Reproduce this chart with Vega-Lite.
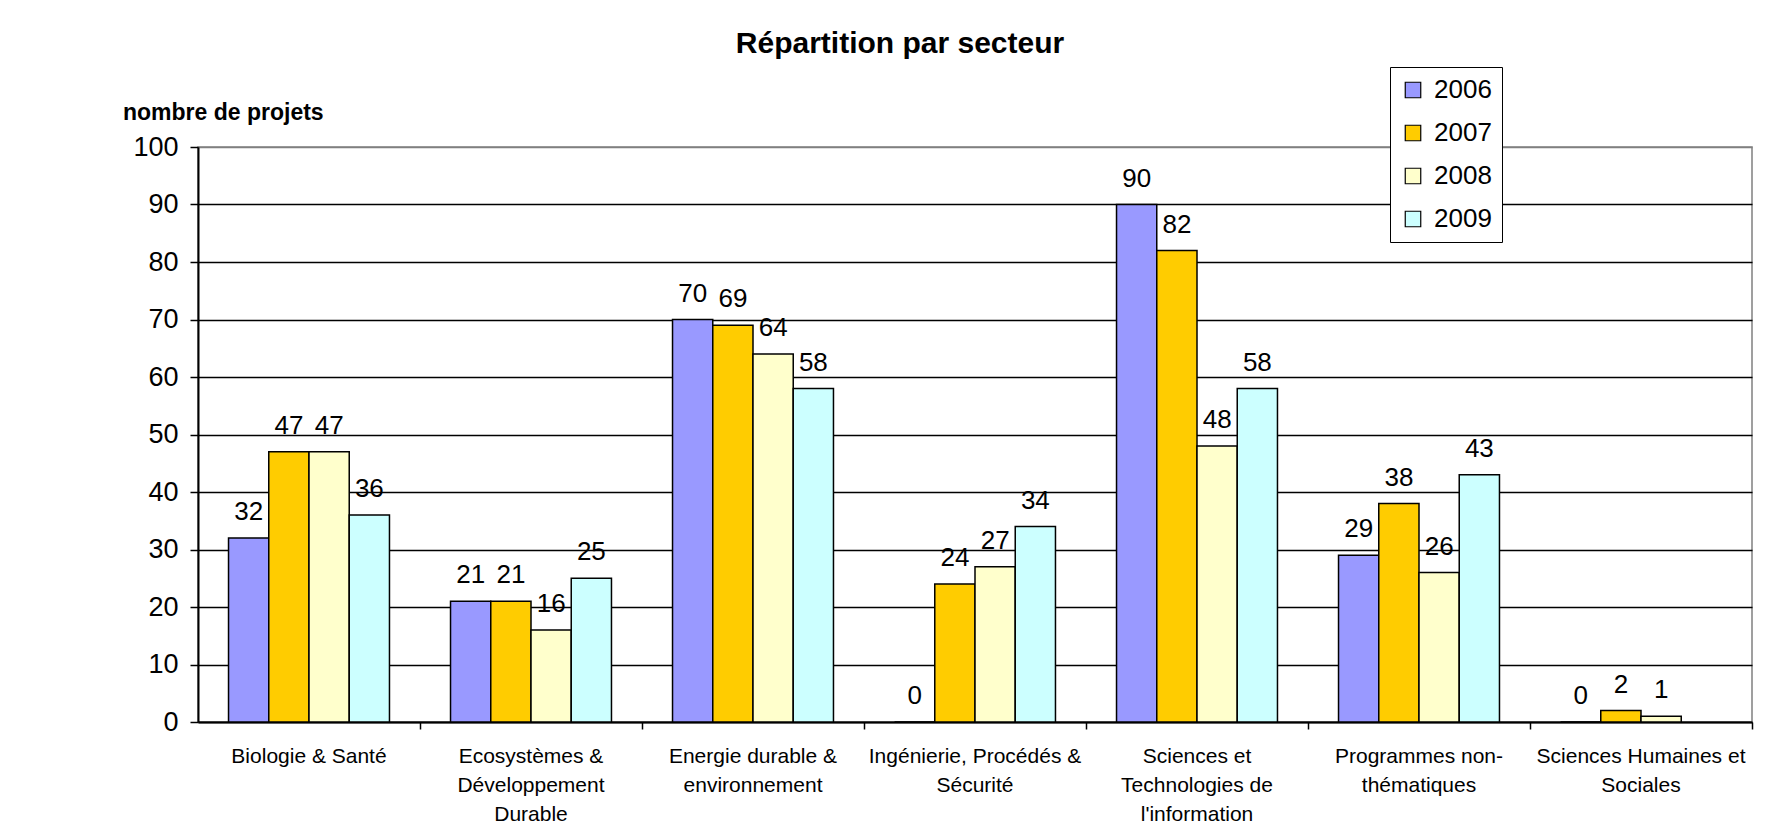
{
  "$schema": "https://vega.github.io/schema/vega-lite/v6.json",
  "width": 1554,
  "height": 575,
  "autosize": "none",
  "padding": {"left": 198, "top": 147, "right": 29, "bottom": 111},
  "background": "white",
  "title": {
    "text": "Répartition par secteur",
    "fontSize": 30,
    "font": "Liberation Sans",
    "fontWeight": "bold",
    "color": "black",
    "anchor": "middle",
    "frame": "group",
    "dx": -75,
    "dy": 30,
    "baseline": "alphabetic",
    "offset": 14
  },
  "data": {
    "values": [
      {"secteur": "Biologie & Santé", "annee": "2006", "projets": 32},
      {"secteur": "Biologie & Santé", "annee": "2007", "projets": 47},
      {"secteur": "Biologie & Santé", "annee": "2008", "projets": 47},
      {"secteur": "Biologie & Santé", "annee": "2009", "projets": 36},
      {"secteur": "Ecosystèmes &\nDéveloppement\nDurable", "annee": "2006", "projets": 21},
      {"secteur": "Ecosystèmes &\nDéveloppement\nDurable", "annee": "2007", "projets": 21},
      {"secteur": "Ecosystèmes &\nDéveloppement\nDurable", "annee": "2008", "projets": 16},
      {"secteur": "Ecosystèmes &\nDéveloppement\nDurable", "annee": "2009", "projets": 25},
      {"secteur": "Energie durable &\nenvironnement", "annee": "2006", "projets": 70},
      {"secteur": "Energie durable &\nenvironnement", "annee": "2007", "projets": 69},
      {"secteur": "Energie durable &\nenvironnement", "annee": "2008", "projets": 64},
      {"secteur": "Energie durable &\nenvironnement", "annee": "2009", "projets": 58},
      {"secteur": "Ingénierie, Procédés &\nSécurité", "annee": "2006", "projets": 0},
      {"secteur": "Ingénierie, Procédés &\nSécurité", "annee": "2007", "projets": 24},
      {"secteur": "Ingénierie, Procédés &\nSécurité", "annee": "2008", "projets": 27},
      {"secteur": "Ingénierie, Procédés &\nSécurité", "annee": "2009", "projets": 34},
      {"secteur": "Sciences et\nTechnologies de\nl'information", "annee": "2006", "projets": 90},
      {"secteur": "Sciences et\nTechnologies de\nl'information", "annee": "2007", "projets": 82},
      {"secteur": "Sciences et\nTechnologies de\nl'information", "annee": "2008", "projets": 48},
      {"secteur": "Sciences et\nTechnologies de\nl'information", "annee": "2009", "projets": 58},
      {"secteur": "Programmes non-\nthématiques", "annee": "2006", "projets": 29},
      {"secteur": "Programmes non-\nthématiques", "annee": "2007", "projets": 38},
      {"secteur": "Programmes non-\nthématiques", "annee": "2008", "projets": 26},
      {"secteur": "Programmes non-\nthématiques", "annee": "2009", "projets": 43},
      {"secteur": "Sciences Humaines et\nSociales", "annee": "2006", "projets": 0},
      {"secteur": "Sciences Humaines et\nSociales", "annee": "2007", "projets": 2},
      {"secteur": "Sciences Humaines et\nSociales", "annee": "2008", "projets": 1}
    ]
  },
  "encoding": {
    "x": {
      "field": "secteur",
      "type": "nominal",
      "sort": null,
      "scale": {"paddingInner": 0.275, "paddingOuter": 0.1375},
      "axis": {
        "title": null,
        "labelAngle": 0,
        "labelExpr": "split(datum.label, '\\n')",
        "labelFontSize": 21,
        "labelLineHeight": 29,
        "labelBaseline": "top",
        "labelPadding": 16,
        "labelLimit": 400,
        "tickSize": 7,
        "tickWidth": 1.5,
        "bandPosition": 1.19,
        "domainWidth": 2,
        "grid": false
      }
    },
    "xOffset": {
      "field": "annee",
      "type": "nominal",
      "scale": {"paddingInner": 0, "paddingOuter": 0}
    },
    "y": {
      "field": "projets",
      "type": "quantitative",
      "scale": {"domain": [0, 100], "nice": false},
      "axis": {
        "title": "nombre de projets",
        "titleAngle": 0,
        "titleAlign": "left",
        "titleBaseline": "alphabetic",
        "titleX": -75.5,
        "titleY": -28,
        "titleFontSize": 23,
        "titleFontWeight": "bold",
        "values": [0, 10, 20, 30, 40, 50, 60, 70, 80, 90, 100],
        "labelFontSize": 27,
        "labelPadding": 12,
        "tickSize": 8,
        "tickWidth": 1.5,
        "domainWidth": 2,
        "grid": true,
        "gridWidth": 1.5,
        "gridColor": {"condition": {"test": "datum.value == 100", "value": "#808080"}, "value": "black"}
      }
    }
  },
  "layer": [
    {
      "mark": {"type": "bar", "stroke": "black", "strokeWidth": 1.5},
      "encoding": {
        "color": {
          "field": "annee",
          "type": "nominal",
          "scale": {
            "domain": ["2006", "2007", "2008", "2009"],
            "range": ["#9999FF", "#FFCC00", "#FFFFCC", "#CCFFFF"]
          },
          "legend": {
            "title": null,
            "orient": "none",
            "legendX": 1192,
            "legendY": -80
          }
        }
      }
    },
    {
      "mark": {"type": "text", "dy": -18, "baseline": "alphabetic", "fontSize": 26, "font": "Liberation Sans", "color": "black"},
      "encoding": {
        "text": {"field": "projets", "type": "quantitative"}
      }
    }
  ],
  "config": {
    "font": "Liberation Sans",
    "view": {"stroke": "#808080", "strokeWidth": 1.5},
    "axis": {
      "labelFont": "Liberation Sans",
      "titleFont": "Liberation Sans",
      "labelColor": "black",
      "titleColor": "black",
      "tickColor": "black",
      "domainColor": "black"
    },
    "legend": {
      "strokeColor": "black",
      "fillColor": "white",
      "padding": 10,
      "symbolType": "square",
      "symbolSize": 240,
      "symbolStrokeColor": "black",
      "symbolStrokeWidth": 1.2,
      "symbolOpacity": 1,
      "labelFontSize": 26,
      "labelFont": "Liberation Sans",
      "labelColor": "black",
      "rowPadding": 17,
      "labelOffset": 8
    }
  }
}
